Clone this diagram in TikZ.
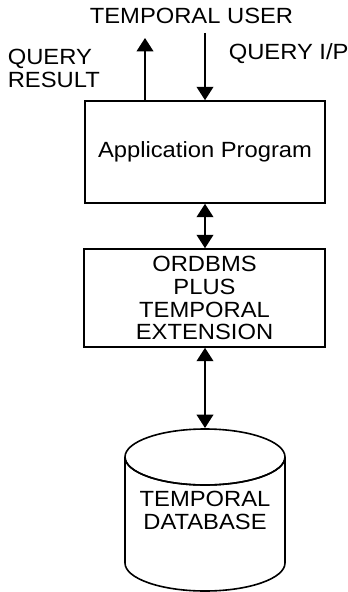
\documentclass[tikz,border=0pt]{standalone}
\usepackage{fontspec}
\setmainfont[FakeStretch=1.08]{Liberation Sans}
\usetikzlibrary{arrows.meta}
\begin{document}
\begin{tikzpicture}[x=0.75pt,y=-0.75pt,
  font=\fontsize{16.5}{17.2}\selectfont,
  line width=1.2pt,
  txt/.style={inner sep=0pt, align=center},
  box/.style={draw, inner sep=0pt, align=center},
  arr/.style={-{Triangle[width=12.5pt,length=10pt]}},
  darr/.style={{Triangle[width=12.5pt,length=10pt]}-{Triangle[width=12.5pt,length=10pt]}}]
\useasboundingbox (0,0) rectangle (347,592);
% texts
\node[txt] (user) at (191.5,15.5) {TEMPORAL USER};
\node[txt, align=left, anchor=west] (qres) at (7,68.5) {QUERY\\RESULT};
\node[txt, anchor=west] (qin) at (228,53.5) {QUERY I/P};
% boxes
\node[box, minimum width=180pt, minimum height=76.5pt] (app) at (205,152) {Application Program};
\node[box, minimum width=180.75pt, minimum height=73.5pt] (ext) at (204.5,298) {ORDBMS\\PLUS\\TEMPORAL\\EXTENSION};
% cylinder
\coordinate (dbtop) at (205,428);
\draw (125,457) -- (125,563) arc[start angle=180, end angle=360, x radius=60pt, y radius=21pt]
  -- (285,457) arc[start angle=0, end angle=-180, x radius=60pt, y radius=21pt];
\draw (205,457) ellipse [x radius=60pt, y radius=21pt];
\node[txt] (db) at (205,510) {TEMPORAL\\DATABASE};
% connectors
\coordinate (upend) at (145,38);
\coordinate (downstart) at (205,33);
\draw[arr] ([xshift=-45pt]app.north) -- (upend);
\draw[arr] (downstart) -- (app.north);
\draw[darr] (app.south) -- (app.south |- ext.north);
\draw[darr] (ext.south -| dbtop) -- (dbtop);
\end{tikzpicture}
\end{document}
